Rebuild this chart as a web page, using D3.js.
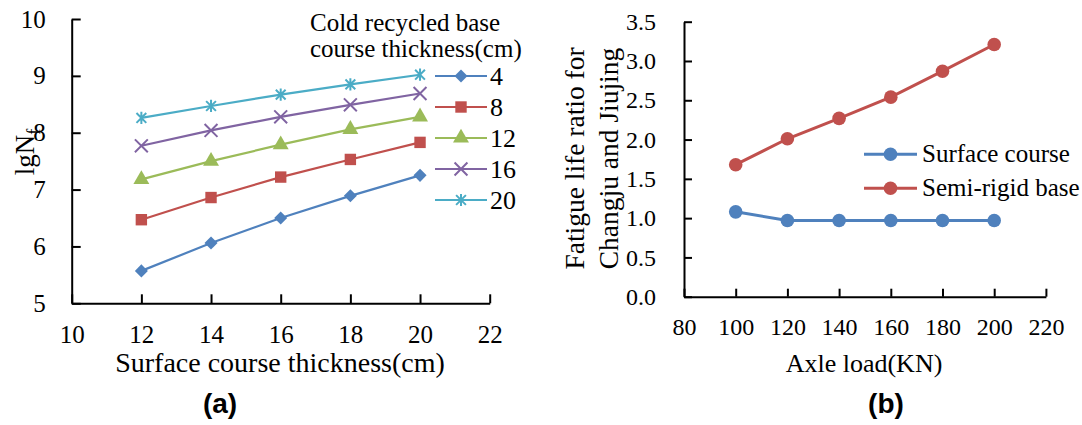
<!DOCTYPE html>
<html>
<head>
<meta charset="utf-8">
<script src="https://cdn.jsdelivr.net/npm/d3@7"></script>
<style>
  body { margin: 0; background: #fff; }
  svg text { font-family: "Liberation Serif", serif; fill: #000; }
</style>
</head>
<body>
<svg id="chart" width="1082" height="425"></svg>
<script>
// Panel (a): fatigue life vs surface thickness, one line per base thickness
const thickness = [12, 14, 16, 18, 20];
const baseLabels = ['4', '8', '12', '16', '20'];
const base4 = [5.57, 6.06, 6.50, 6.89, 7.25];
const base8 = [6.47, 6.86, 7.22, 7.53, 7.83];
const base12 = [7.18, 7.50, 7.79, 8.06, 8.28];
const base16 = [7.77, 8.04, 8.28, 8.49, 8.69];
const base20 = [8.26, 8.47, 8.67, 8.85, 9.02];
const xTicksA = [10, 12, 14, 16, 18, 20, 22];
const yTicksA = [5, 6, 7, 8, 9, 10];

// Panel (b): life ratio vs axle load
const axleLoad = [100, 120, 140, 160, 180, 200];
const surfaceRatio = [1.08, 0.97, 0.97, 0.97, 0.97, 0.97];
const semiRigidRatio = [1.68, 2.01, 2.27, 2.54, 2.87, 3.21];
const ratioLabels = ['Surface course', 'Semi-rigid base'];
const xTicksB = [80, 100, 120, 140, 160, 180, 200, 220];
const yTicksB = [0, 0.5, 1, 1.5, 2, 2.5, 3, 3.5];

const colors = ['#4F81BD', '#C0504D', '#9BBB59', '#8064A2', '#4BACC6'];

const svg = d3.select('#chart');

// excel style markers
const symbolStar = {
    draw(ctx, size) {
        const r = Math.sqrt(size) / 2;
        const d = r * 0.8;
        ctx.moveTo(-d, -d); ctx.lineTo(d, d);
        ctx.moveTo(-d, d); ctx.lineTo(d, -d);
        ctx.moveTo(0, -r); ctx.lineTo(0, r);
    }
};
const symbolRhomb = {
    draw(ctx, size) {
        const r = Math.sqrt(size) / 2;
        ctx.moveTo(0, -r); ctx.lineTo(r, 0);
        ctx.lineTo(0, r); ctx.lineTo(-r, 0);
        ctx.closePath();
    }
};
const markers = [
    { type: symbolRhomb, size: 170, fill: true },
    { type: d3.symbolSquare, size: 130, fill: true },
    { type: d3.symbolTriangle, size: 110, fill: true },
    { type: d3.symbolX, size: 110, fill: false },
    { type: symbolStar, size: 150, fill: false }
];

function drawMarker(g, m, color, x, y) {
    g.append('path')
        .attr('d', d3.symbol().type(m.type).size(m.size)())
        .attr('transform', 'translate(' + x + ',' + y + ')')
        .attr('fill', m.fill ? color : 'none')
        .attr('stroke', color)
        .attr('stroke-width', m.fill ? 0 : 2);
}

function styleAxis(g, fontSize) {
    g.select('.domain').attr('stroke', '#000').attr('stroke-width', 2);
    g.selectAll('.tick line').attr('stroke', '#000').attr('stroke-width', 2);
    g.selectAll('.tick text')
        .attr('font-family', '"Liberation Serif", serif')
        .attr('font-size', fontSize)
        .attr('fill', '#000');
}

/* ---------- panel (a) ---------- */
const xA = d3.scaleLinear().domain([10, 22]).range([71.7, 489.7]);
const yA = d3.scaleLinear().domain([5, 10]).range([303.3, 19]);

const gxA = svg.append('g')
    .attr('transform', 'translate(0,' + yA(5) + ')')
    .call(d3.axisBottom(xA).tickValues(xTicksA).tickFormat(d3.format('d'))
        .tickSize(-9).tickSizeOuter(0).tickPadding(22));
styleAxis(gxA, 25);

const gyA = svg.append('g')
    .attr('transform', 'translate(' + xA(10) + ',0)')
    .call(d3.axisLeft(yA).tickValues(yTicksA).tickFormat(d3.format('d'))
        .tickSize(-9).tickSizeOuter(0).tickPadding(26));
styleAxis(gyA, 25);

const seriesA = [base4, base8, base12, base16, base20];
const lineA = d3.line().x((d, i) => xA(thickness[i])).y(d => yA(d));

seriesA.forEach((vals, s) => {
    svg.append('path')
        .attr('d', lineA(vals))
        .attr('fill', 'none')
        .attr('stroke', colors[s])
        .attr('stroke-width', 2.2);
    const gm = svg.append('g');
    vals.forEach((v, i) => drawMarker(gm, markers[s], colors[s], xA(thickness[i]), yA(v)));
});

// legend (a)
svg.append('text').attr('x', 310).attr('y', 31).attr('font-size', 25).text('Cold recycled base');
svg.append('text').attr('x', 310).attr('y', 57).attr('font-size', 25).text('course thickness(cm)');
baseLabels.forEach((lab, s) => {
    const ly = 76 + s * 31;
    svg.append('line')
        .attr('x1', 435).attr('x2', 487).attr('y1', ly).attr('y2', ly)
        .attr('stroke', colors[s]).attr('stroke-width', 2.2);
    drawMarker(svg, markers[s], colors[s], 461, ly);
    svg.append('text').attr('x', 490).attr('y', ly + 9).attr('font-size', 26).text(lab);
});

// y label lgNf
const yLabA = svg.append('text')
    .attr('transform', 'translate(34,152) rotate(-90)')
    .attr('text-anchor', 'middle')
    .attr('font-size', 27);
yLabA.append('tspan').text('lgN');
yLabA.append('tspan').attr('font-size', 18).attr('dy', 6).text('f');

svg.append('text').attr('x', 280).attr('y', 372).attr('text-anchor', 'middle')
    .attr('font-size', 28).text('Surface course thickness(cm)');

svg.append('text').attr('x', 220).attr('y', 413).attr('text-anchor', 'middle')
    .style('font-family', '"Liberation Sans", Arial, sans-serif')
    .attr('font-weight', 'bold').attr('font-size', 28).text('(a)');

/* ---------- panel (b) ---------- */
const xB = d3.scaleLinear().domain([80, 220]).range([684, 1045.9]);
const yB = d3.scaleLinear().domain([0, 3.5]).range([296.7, 21.7]);

const gxB = svg.append('g')
    .attr('transform', 'translate(0,' + yB(0) + ')')
    .call(d3.axisBottom(xB).tickValues(xTicksB).tickSize(-8).tickSizeOuter(0).tickPadding(21));
styleAxis(gxB, 24);

const gyB = svg.append('g')
    .attr('transform', 'translate(' + xB(80) + ',0)')
    .call(d3.axisLeft(yB).tickValues(yTicksB).tickFormat(d3.format('.1f'))
        .tickSize(-8).tickSizeOuter(0).tickPadding(28));
styleAxis(gyB, 24);

const seriesB = [surfaceRatio, semiRigidRatio];
const colorsB = [colors[0], colors[1]];
const lineB = d3.line().x((d, i) => xB(axleLoad[i])).y(d => yB(d));

seriesB.forEach((vals, s) => {
    svg.append('path')
        .attr('d', lineB(vals))
        .attr('fill', 'none')
        .attr('stroke', colorsB[s])
        .attr('stroke-width', 3);
    svg.append('g').selectAll('circle')
        .data(vals)
        .enter().append('circle')
            .attr('cx', (d, i) => xB(axleLoad[i]))
            .attr('cy', d => yB(d))
            .attr('r', 6.8)
            .attr('fill', colorsB[s]);
});

// legend (b)
ratioLabels.forEach((lab, s) => {
    const ly = 154.3 + s * 34;
    svg.append('line')
        .attr('x1', 864).attr('x2', 917).attr('y1', ly).attr('y2', ly)
        .attr('stroke', colorsB[s]).attr('stroke-width', 3);
    svg.append('circle').attr('cx', 890.5).attr('cy', ly).attr('r', 6.8).attr('fill', colorsB[s]);
    svg.append('text').attr('x', 922).attr('y', ly + 8).attr('font-size', 25).text(lab);
});

svg.append('text')
    .attr('transform', 'translate(584,158.5) rotate(-90)')
    .attr('text-anchor', 'middle').attr('font-size', 27.5)
    .text('Fatigue life ratio for');
svg.append('text')
    .attr('transform', 'translate(618,158.5) rotate(-90)')
    .attr('text-anchor', 'middle').attr('font-size', 27.5)
    .text('Changju and Jiujing');

svg.append('text').attr('x', 864).attr('y', 372).attr('text-anchor', 'middle')
    .attr('font-size', 26).text('Axle load(KN)');

svg.append('text').attr('x', 886).attr('y', 413).attr('text-anchor', 'middle')
    .style('font-family', '"Liberation Sans", Arial, sans-serif')
    .attr('font-weight', 'bold').attr('font-size', 28).text('(b)');
</script>
</body>
</html>
